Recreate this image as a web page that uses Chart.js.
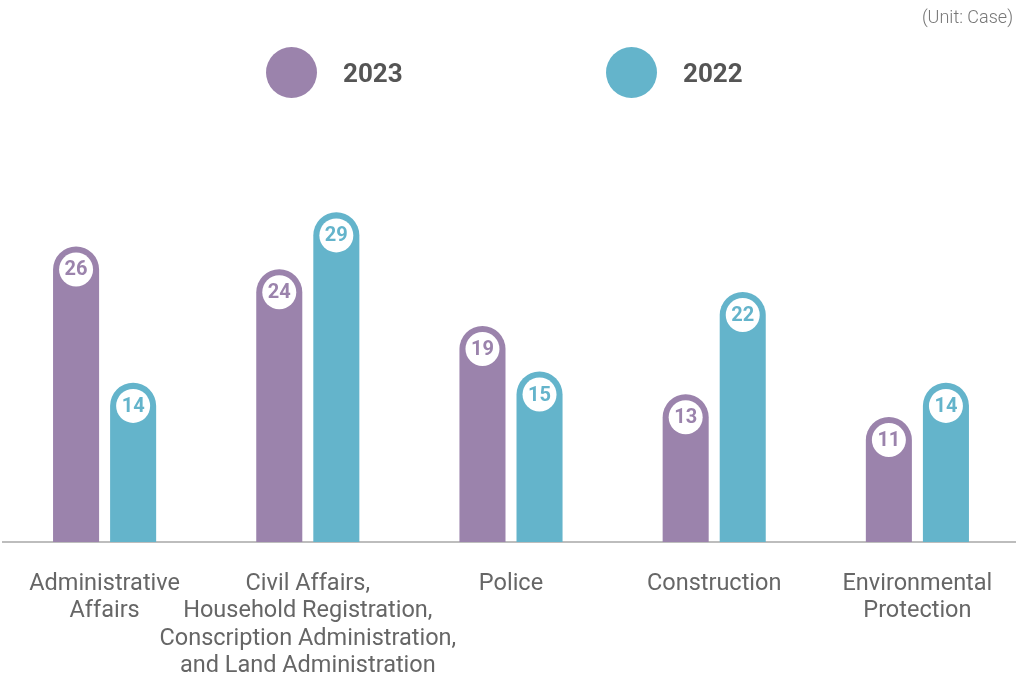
<!DOCTYPE html>
<html>
<head>
<meta charset="utf-8">
<script src="https://cdn.jsdelivr.net/npm/chart.js@4.4.1/dist/chart.umd.min.js"></script>
<style>
  html, body { margin: 0; padding: 0; background: #fff; overflow: hidden; }
  #wrap { position: relative; width: 1016px; height: 675px; }
  #chart { position: absolute; left: 0; top: 0; }
  .unit { position: absolute; right: 3px; top: 6px; font: 300 18px Roboto, sans-serif; color: #777; }
  .legend-item { position: absolute; top: 47px; height: 51px; display: flex; align-items: center; }
  .legend-dot { width: 51px; height: 51px; border-radius: 50%; }
  .legend-text { margin-left: 26px; font: bold 26px Roboto, sans-serif; color: #555; }
</style>
</head>
<body>
<div id="wrap">
  <canvas id="chart" width="1022" height="675"></canvas>
  <div class="unit">(Unit: Case)</div>
  <div class="legend-item" style="left:266px"><div class="legend-dot" style="background:#9b83ac"></div><div class="legend-text">2023</div></div>
  <div class="legend-item" style="left:606px"><div class="legend-dot" style="background:#64b4cb"></div><div class="legend-text">2022</div></div>
</div>
<script>
// --- data ---
const categories = [
    ['Administrative', 'Affairs'],
    ['Civil Affairs,', 'Household Registration,', 'Conscription Administration,', 'and Land Administration'],
    ['Police'],
    ['Construction'],
    ['Environmental', 'Protection']
];
const seriesNames = ['2023', '2022'];
const values2023 = [26, 24, 19, 13, 11];
const values2022 = [14, 29, 15, 22, 14];

const colors = ['#9b83ac', '#64b4cb'];

// white circle + number at the top of each bar
const valueBadges = {
    id: 'valueBadges',
    afterDatasetsDraw(chart) {
        const ctx = chart.ctx;
        chart.data.datasets.forEach((ds, i) => {
            const meta = chart.getDatasetMeta(i);
            meta.data.forEach((bar, j) => {
                const cy = bar.y + bar.width / 2;
                ctx.save();
                ctx.beginPath();
                ctx.arc(bar.x, cy, 17, 0, Math.PI * 2);
                ctx.fillStyle = '#fff';
                ctx.fill();
                ctx.fillStyle = colors[i];
                ctx.font = 'bold 20px Roboto, sans-serif';
                ctx.textAlign = 'center';
                ctx.textBaseline = 'middle';
                ctx.fillText(String(ds.data[j]), bar.x, cy + 1);
                ctx.restore();
            });
        });
    }
};

new Chart(document.getElementById('chart'), {
    type: 'bar',
    data: {
        labels: categories,
        datasets: [
            { label: seriesNames[0], data: values2023, backgroundColor: colors[0] },
            { label: seriesNames[1], data: values2022, backgroundColor: colors[1] }
        ]
    },
    options: {
        responsive: false,
        animation: false,
        layout: { padding: { top: 201, left: 3, right: 3, bottom: 0 } },
        datasets: {
            bar: {
                categoryPercentage: 0.5616,
                barPercentage: 0.807,
                borderRadius: 23,
                borderSkipped: 'bottom'
            }
        },
        plugins: {
            legend: { display: false },
            tooltip: { enabled: false }
        },
        scales: {
            x: {
                grid: { display: false },
                border: { display: true, color: '#bdbdbd', width: 2 },
                ticks: {
                    color: '#666',
                    padding: 20,
                    maxRotation: 0,
                    autoSkip: false,
                    font: { family: 'Roboto, sans-serif', size: 23.5, lineHeight: 1.17 }
                },
                afterFit: s => { s.height = 133; }
            },
            y: {
                display: false,
                min: 0,
                max: 30
            }
        }
    },
    plugins: [valueBadges]
});
</script>
</body>
</html>
